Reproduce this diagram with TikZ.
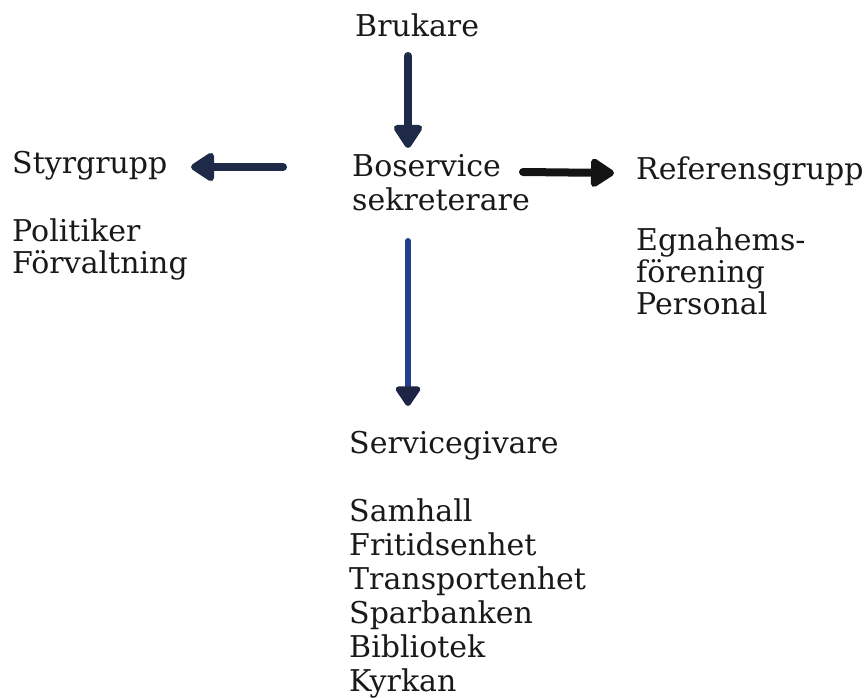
\documentclass[tikz,border=0pt]{standalone}
\usepackage{fontspec}
\setmainfont{DejaVu Serif}
\usetikzlibrary{arrows.meta}
\definecolor{navy}{HTML}{1F2A48}
\definecolor{inkblack}{HTML}{141414}
\definecolor{penblue}{HTML}{24408C}
\definecolor{headnavy}{HTML}{1E2444}
\newcommand\mylinefix{\lineskiplimit=-100pt\relax}
\tikzset{
  lbl/.style={anchor=base west, inner sep=0pt, font=\fontsize{30}{34}\selectfont\mylinefix, text=black!90},
  lst/.style={lbl, align=left},
  lstnarrow/.style={lbl, align=left, font=\fontsize{30}{32}\selectfont\mylinefix},
  marker/.style={line width=8pt, line cap=round, -{Triangle[length=26pt,width=32pt,round]}},
}
\begin{document}
\begin{tikzpicture}[x=1pt,y=-1pt]
\useasboundingbox (0,0) rectangle (865,698);
% multi-line nodes are anchored at the baseline of their last line
\node[lbl] (brukare) at (355,37) {Brukare};
\node[lbl] (styr) at (12,174) {Styrgrupp};
\node[lstnarrow] (styrlist) at (12,273) {Politiker\\Förvaltning};
\node[lst] (bos) at (352,211) {Boservice\\sekreterare};
\node[lbl] (ref) at (636,179) {Referensgrupp};
\node[lstnarrow] (reflist) at (636,314) {Egnahems-\\förening\\Personal};
\node[lbl] (serv) at (349,453) {Servicegivare};
\node[lst] (servlist) at (349,691) {Samhall\\Fritidsenhet\\Transportenhet\\Sparbanken\\Bibliotek\\Kyrkan};
\coordinate (a1s) at (408,56);
\coordinate (a1e) at (408,148);
\coordinate (a2s) at (283,167);
\coordinate (a2e) at (191,167);
\coordinate (a3s) at (523,172);
\coordinate (a3e) at (614,173);
\coordinate (a4s) at (408,241);
\coordinate (a4e) at (408,406);
\draw[marker, navy] (a1s) -- (a1e);
\draw[marker, navy] (a2s) -- (a2e);
\draw[marker, inkblack] (a3s) -- (a3e);
\draw[marker, penblue, line width=6pt, -{Triangle[length=22pt,width=28pt,round,fill=headnavy,color=headnavy]}] (a4s) -- (a4e);
\end{tikzpicture}
\end{document}
